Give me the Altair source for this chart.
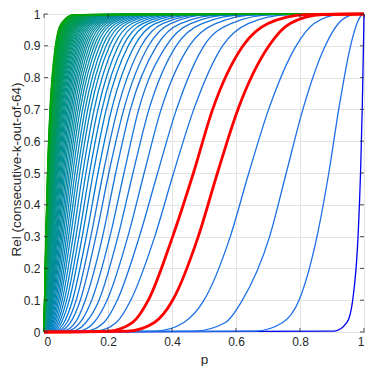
import altair as alt
import pandas as pd

# consecutive-k-out-of-64 curves, k = 1 .. 64
K = list(range(1, 65))
RED_K = [5, 6]

# reliability levels at which p was read for every curve (first/last are the corners)
R_LEVELS = [0.0, 0.003, 0.03, 0.1, 0.3, 0.5, 0.7, 0.9, 0.97, 0.998, 1.0]

p_r003 = [0.9075, 0.66, 0.47, 0.35, 0.262, 0.203, 0.161, 0.131, 0.108, 0.089, 0.073, 0.06, 0.0495, 0.0414, 0.0347, 0.029,
          0.0246, 0.0208, 0.0176, 0.0149, 0.0125, 0.01043, 0.00873, 0.0073, 0.00616, 0.0052, 0.00438, 0.0037, 0.0033, 0.0029, 0.0026, 0.0024,
          0.00116, 0.0007, 0.00048, 0.00037, 0.0003, 0.00025, 0.00021, 0.00018, 0.00017, 0.00015, 0.00014, 0.00013, 0.00012, 0.00011, 0.0001, 0.0001,
          0.00009, 0.000085, 0.00008, 0.000076, 0.000073, 0.00007, 0.000066, 0.000064, 0.000061, 0.000059, 0.000057, 0.000055, 0.000053, 0.000051, 0.000049, 0.000048]
p_r03 = [0.9467, 0.746, 0.567, 0.437, 0.345, 0.277, 0.226, 0.187, 0.156, 0.131, 0.113, 0.098, 0.0828, 0.072, 0.0627, 0.0545,
         0.0479, 0.0422, 0.0371, 0.0326, 0.02874, 0.02534, 0.02234, 0.0197, 0.01744, 0.01543, 0.01366, 0.01209, 0.0109, 0.0098, 0.009, 0.0082,
         0.0064, 0.005, 0.004, 0.00328, 0.00276, 0.00238, 0.00208, 0.00184, 0.00169, 0.00153, 0.00139, 0.00127, 0.00117, 0.00109, 0.00102, 0.00095,
         0.0009, 0.00085, 0.0008, 0.00076, 0.00073, 0.00069, 0.00066, 0.00064, 0.00061, 0.00059, 0.00057, 0.00055, 0.00053, 0.00051, 0.00049, 0.00048]
p_r10 = [0.9647, 0.797, 0.62, 0.50, 0.402, 0.326, 0.271, 0.229, 0.197, 0.172, 0.149, 0.129, 0.1134, 0.1005, 0.0891, 0.079,
         0.0708, 0.0635, 0.0569, 0.051, 0.04604, 0.04156, 0.03751, 0.03386, 0.03069, 0.02782, 0.02521, 0.02285, 0.02097, 0.01925, 0.01767, 0.01622,
         0.0141, 0.0122, 0.01065, 0.00933, 0.00834, 0.00746, 0.00667, 0.00596, 0.0054, 0.00495, 0.00456, 0.00423, 0.00393, 0.00367, 0.00345, 0.00324,
         0.00306, 0.0029, 0.00275, 0.00262, 0.0025, 0.00238, 0.00228, 0.00219, 0.0021, 0.00202, 0.00195, 0.00188, 0.00182, 0.00175, 0.0017, 0.00165]
p_r30 = [0.9814, 0.853, 0.705, 0.582, 0.482, 0.402, 0.346, 0.298, 0.262, 0.231, 0.206, 0.183, 0.162, 0.1463, 0.1322, 0.1194,
         0.1091, 0.0997, 0.0911, 0.0832, 0.0766, 0.0706, 0.065, 0.05985, 0.05543, 0.05134, 0.04755, 0.04404, 0.04106, 0.03828, 0.03569, 0.03327,
         0.0306, 0.02814, 0.02588, 0.0238, 0.02206, 0.02045, 0.01896, 0.01757, 0.0165, 0.0155, 0.01456, 0.01368, 0.01285, 0.01207, 0.01134, 0.01066,
         0.01018, 0.00972, 0.00928, 0.00886, 0.00846, 0.00808, 0.00771, 0.00736, 0.00711, 0.00686, 0.00663, 0.0064, 0.00618, 0.00596, 0.00576, 0.00556]
p_r50 = [0.9892, 0.89, 0.757, 0.64, 0.542, 0.467, 0.405, 0.355, 0.313, 0.278, 0.25, 0.224, 0.2026, 0.1849, 0.1688, 0.154,
         0.1421, 0.1311, 0.121, 0.1117, 0.104, 0.0968, 0.09, 0.0838, 0.07845, 0.07343, 0.06874, 0.06436, 0.06053, 0.05692, 0.05353, 0.05034,
         0.04717, 0.0442, 0.0415, 0.03897, 0.03669, 0.03455, 0.03253, 0.03063, 0.02905, 0.02755, 0.02612, 0.02477, 0.02349, 0.02228, 0.02113, 0.02002,
         0.01918, 0.01837, 0.0176, 0.01686, 0.01615, 0.01547, 0.01482, 0.0142, 0.01372, 0.01325, 0.0128, 0.01237, 0.01195, 0.01154, 0.01115, 0.01077]
p_r70 = [0.99444, 0.921, 0.809, 0.702, 0.606, 0.527, 0.468, 0.414, 0.366, 0.328, 0.296, 0.27, 0.2493, 0.2296, 0.2114, 0.1946,
         0.1811, 0.1685, 0.1567, 0.1458, 0.1368, 0.1284, 0.1204, 0.113, 0.1066, 0.1006, 0.09497, 0.08963, 0.08494, 0.0805, 0.07629, 0.0723,
         0.06861, 0.06511, 0.06179, 0.05865, 0.05581, 0.05311, 0.05054, 0.04809, 0.04595, 0.04391, 0.04196, 0.0401, 0.03832, 0.03662, 0.03499, 0.03344,
         0.03215, 0.0309, 0.0297, 0.02855, 0.02745, 0.02639, 0.02536, 0.02438, 0.02358, 0.0228, 0.02204, 0.02132, 0.02061, 0.01993, 0.01927, 0.01864]
p_r90 = [0.99835, 0.958, 0.879, 0.788, 0.703, 0.622, 0.558, 0.50, 0.454, 0.413, 0.382, 0.352, 0.3268, 0.3041, 0.283, 0.2633,
         0.2474, 0.2324, 0.2183, 0.2051, 0.1941, 0.1838, 0.174, 0.1647, 0.1568, 0.1492, 0.142, 0.1352, 0.1292, 0.1235, 0.118, 0.1128,
         0.1081, 0.1036, 0.0993, 0.0952, 0.09146, 0.08787, 0.08442, 0.0811, 0.07812, 0.07526, 0.0725, 0.06984, 0.06727, 0.0648, 0.06243, 0.06013,
         0.05809, 0.05611, 0.0542, 0.05236, 0.05058, 0.04886, 0.0472, 0.0456, 0.04417, 0.04278, 0.04144, 0.04014, 0.03888, 0.03766, 0.03648, 0.03534]
p_r97 = [0.99952, 0.978, 0.92, 0.844, 0.769, 0.70, 0.638, 0.584, 0.536, 0.494, 0.458, 0.426, 0.3955, 0.3708, 0.3477, 0.326,
         0.3081, 0.2911, 0.2751, 0.26, 0.2474, 0.2355, 0.2241, 0.2133, 0.2041, 0.1952, 0.1868, 0.1787, 0.1716, 0.1648, 0.1583, 0.152,
         0.1464, 0.141, 0.1358, 0.1308, 0.1263, 0.1219, 0.1177, 0.11356, 0.1099, 0.1063, 0.1028, 0.09948, 0.09625, 0.09312, 0.0901, 0.08721,
         0.08453, 0.08194, 0.07942, 0.07698, 0.07462, 0.07233, 0.07011, 0.06795, 0.06592, 0.06395, 0.06204, 0.06018, 0.05838, 0.05664, 0.05494, 0.05332]
p_r998 = [0.99997, 0.994, 0.968, 0.924, 0.87, 0.82, 0.765, 0.715, 0.67, 0.63, 0.59, 0.56, 0.52, 0.50, 0.475, 0.45,
          0.4268, 0.4048, 0.3839, 0.364, 0.3488, 0.3343, 0.3204, 0.307, 0.2953, 0.284, 0.2731, 0.2627, 0.2539, 0.2453, 0.2371, 0.2291,
          0.2219, 0.2149, 0.2082, 0.2017, 0.1957, 0.1899, 0.1843, 0.1788, 0.1739, 0.1691, 0.1644, 0.1599, 0.1555, 0.1512, 0.147, 0.1429,
          0.1392, 0.1355, 0.132, 0.1285, 0.1252, 0.1219, 0.1187, 0.1155, 0.1123, 0.1093, 0.1063, 0.1034, 0.1005, 0.0978, 0.0951, 0.0925]

X_TICKS = [0, 0.2, 0.4, 0.6, 0.8, 1]
Y_TICKS = [0, 0.1, 0.2, 0.3, 0.4, 0.5, 0.6, 0.7, 0.8, 0.9, 1]

W, H = 320, 318
INK = "#262626"
FONT = "Liberation Sans"

levels = [p_r003, p_r03, p_r10, p_r30, p_r50, p_r70, p_r90, p_r97, p_r998]
rows = []
for i, k in enumerate(K):
    pts = [(0.0, R_LEVELS[0])] + [(lv[i], r) for lv, r in zip(levels, R_LEVELS[1:-1])] + [(1.0, R_LEVELS[-1])]
    for j, (p, r) in enumerate(pts):
        rows.append({"k": k, "p": p, "rel": r, "idx": j, "hl": k in RED_K})
df = pd.DataFrame(rows)

xscale = alt.Scale(domain=[0, 1], nice=False, zero=False)
yscale = alt.Scale(domain=[0, 1], nice=False, zero=False)

x_axis = alt.Axis(
    values=X_TICKS, format="~g", title="p", ticks=False, domain=False,
    labelPadding=4, titleBaseline="alphabetic", titleY=31, titleX=W / 2, titleAnchor="middle",
    titleFontWeight="normal")
y_axis = alt.Axis(
    values=Y_TICKS, format="~g", title="Rel (consecutive-k-out-of-64)", ticks=False, domain=False,
    labelPadding=4, titleX=-28, titleY=155, titleBaseline="middle", titleAngle=270,
    titleFontWeight="normal")

def xe():
    return alt.X("p:Q", scale=xscale, axis=x_axis)

def ye():
    return alt.Y("rel:Q", scale=yscale, axis=y_axis)

base = alt.Chart(df[~df["hl"]]).mark_line(interpolate="monotone", strokeWidth=1.3).encode(
    x=xe(), y=ye(), detail="k:N",
    color=alt.Color("k:Q", scale=alt.Scale(domain=[1, 2, 14, 28, 44, 64],
                                           range=["#0000f0", "#1f6fe8", "#1873d6", "#008a9c", "#00975c", "#00a400"]),
                    legend=None),
    order="idx:Q",
)
red = alt.Chart(df[df["hl"]]).mark_line(interpolate="monotone", strokeWidth=2.8, color="#ff0000").encode(
    x=xe(), y=ye(), detail="k:N", order="idx:Q",
)

ydf = pd.DataFrame({"rel": Y_TICKS})
xdf = pd.DataFrame({"p": X_TICKS})
tl = alt.Chart(ydf).mark_rule(color=INK, strokeWidth=0.8).encode(y=ye(), x=alt.value(0), x2=alt.value(4))
tr = alt.Chart(ydf).mark_rule(color=INK, strokeWidth=0.8).encode(y=ye(), x=alt.value(W), x2=alt.value(W - 4))
tb = alt.Chart(xdf).mark_rule(color=INK, strokeWidth=0.8).encode(x=xe(), y=alt.value(H), y2=alt.value(H - 4))
tt = alt.Chart(xdf).mark_rule(color=INK, strokeWidth=0.8).encode(x=xe(), y=alt.value(0), y2=alt.value(4))

chart = alt.layer(base, red, tl, tr, tb, tt).properties(
    width=W, height=H,
    autosize=alt.AutoSizeParams(type="none"),
    padding={"left": 36, "top": 6, "right": 2, "bottom": 34},
).configure(font=FONT).configure_view(
    stroke=INK, strokeWidth=1
).configure_axis(
    labelFont=FONT, titleFont=FONT, labelFontSize=12, titleFontSize=13.5,
    labelColor=INK, titleColor=INK, gridColor="#e4e4e4", gridWidth=1,
)

chart.save("out.html", embed_options={"renderer": "svg", "actions": False})
